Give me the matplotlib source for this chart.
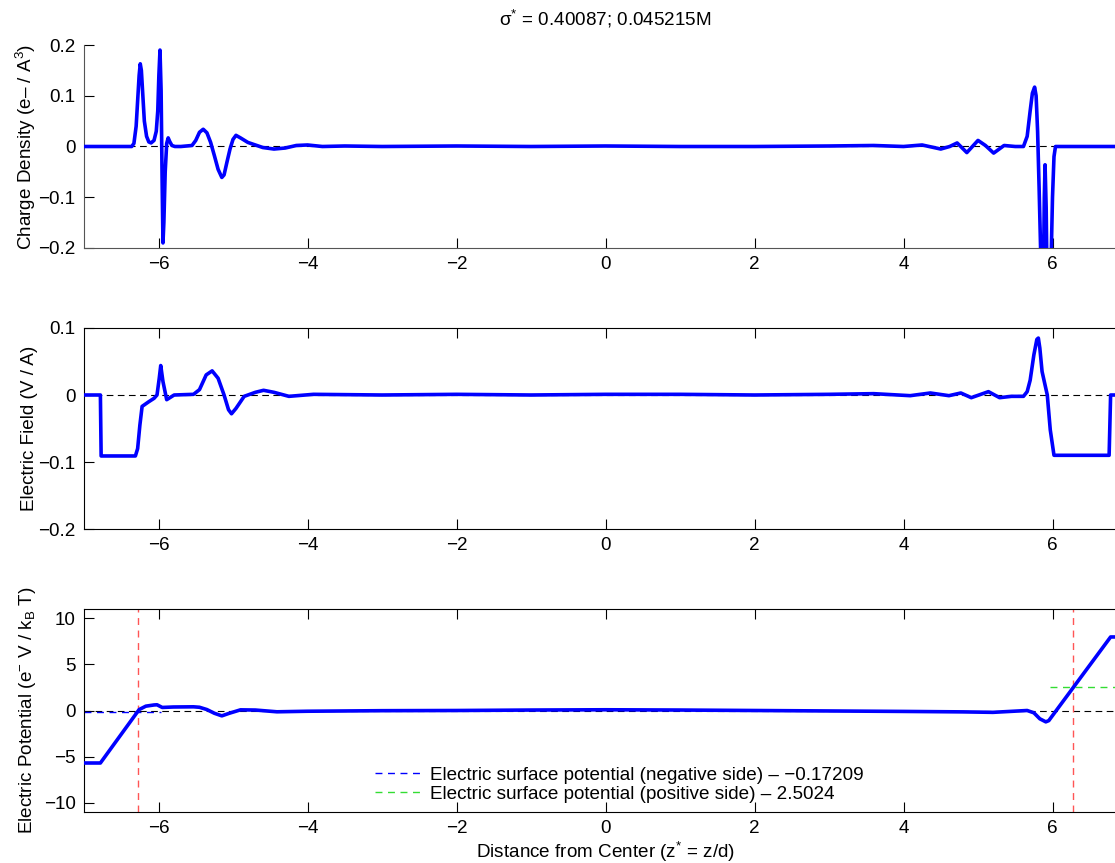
import numpy as np
import matplotlib
matplotlib.use("Agg")
import matplotlib.pyplot as plt

plt.rcParams['font.family'] = ['Liberation Sans', 'DejaVu Sans']
plt.rcParams['mathtext.fontset'] = 'custom'
plt.rcParams['mathtext.rm'] = 'Liberation Sans'
plt.rcParams['mathtext.it'] = 'Liberation Sans'
plt.rcParams['font.size'] = 13.6

# --- data ---
z_rho = [-7.0, -6.36, -6.33, -6.30, -6.28, -6.26, -6.245, -6.23, -6.21, -6.19, -6.16,
         -6.13, -6.10, -6.06, -6.03, -6.01, -5.995, -5.98, -5.965, -5.952, -5.94, -5.928,
         -5.91, -5.89, -5.87, -5.85, -5.82, -5.78, -5.70, -5.55, -5.50, -5.45, -5.40,
         -5.35, -5.30, -5.25, -5.20, -5.15, -5.12, -5.08, -5.04, -5.00, -4.96, -4.90,
         -4.80, -4.70, -4.60, -4.45, -4.30, -4.15, -4.0, -3.8, -3.5, -3.0, -2.0, -1.0,
         0.0, 1.0, 2.0, 3.0, 3.6, 4.0, 4.25, 4.5, 4.62, 4.72, 4.85, 5.00, 5.10, 5.21,
         5.35, 5.50, 5.61, 5.66, 5.70, 5.73, 5.76, 5.78, 5.80, 5.82, 5.84, 5.86, 5.875,
         5.89, 5.90, 5.915, 5.93, 5.945, 5.97, 5.985, 6.00, 6.02, 6.04, 7.0]
rho = [0.0, 0.0, 0.006, 0.04, 0.09, 0.14, 0.163, 0.15, 0.10, 0.05, 0.02,
       0.009, 0.007, 0.012, 0.03, 0.07, 0.14, 0.19, 0.11, -0.06, -0.19, -0.15,
       -0.05, 0.006, 0.017, 0.01, 0.002, 0.0, 0.0, 0.002, 0.012, 0.028, 0.034,
       0.027, 0.008, -0.018, -0.045, -0.061, -0.056, -0.03, -0.005, 0.014, 0.022, 0.017,
       0.008, 0.003, -0.002, -0.005, -0.003, 0.002, 0.003, 0.0, 0.001, 0.0, 0.001, 0.0,
       0.001, 0.0, 0.0, 0.001, 0.002, 0.0, 0.003, -0.005, 0.0, 0.007, -0.012, 0.012,
       0.002, -0.013, 0.002, 0.0, 0.0, 0.02, 0.07, 0.105, 0.117, 0.10, 0.03, -0.08,
       -0.2, -0.33, -0.30, -0.1, -0.036, -0.12, -0.3, -0.33, -0.3, -0.2, -0.1, -0.02, 0.0, 0.0]

z_field = [-7.0, -6.78, -6.77, -6.31, -6.28, -6.25, -6.22, -6.13, -6.06, -6.02, -5.99,
           -5.97, -5.94, -5.89, -5.79, -5.53, -5.45, -5.36, -5.28, -5.20, -5.12, -5.06,
           -5.02, -4.96, -4.85, -4.70, -4.59, -4.45, -4.25, -3.92, -3.0, -2.0, -1.0, 0.0,
           1.0, 2.0, 3.0, 3.6, 4.09, 4.36, 4.61, 4.77, 4.91, 5.14, 5.29, 5.45, 5.61,
           5.66, 5.70, 5.75, 5.79, 5.81, 5.83, 5.86, 5.88, 5.93, 5.97, 6.02, 6.76, 6.78, 7.0]
efield = [0.0, 0.0, -0.091, -0.091, -0.08, -0.045, -0.017, -0.010, -0.005, 0.0, 0.025,
          0.044, 0.02, -0.007, 0.0, 0.001, 0.008, 0.03, 0.036, 0.025, 0.0, -0.022,
          -0.028, -0.02, -0.002, 0.004, 0.007, 0.004, -0.002, 0.001, 0.0, 0.001, 0.0, 0.001,
          0.001, 0.0, 0.001, 0.002, -0.001, 0.003, -0.001, 0.003, -0.004, 0.005, -0.004,
          -0.002, -0.002, 0.005, 0.022, 0.06, 0.083, 0.085, 0.07, 0.035, 0.025, 0.0,
          -0.052, -0.090, -0.090, 0.0, 0.0]

z_pot = [-7.0, -6.78, -6.26, -6.17, -6.06, -6.02, -5.95, -5.80, -5.53, -5.45, -5.35,
         -5.25, -5.15, -5.05, -4.90, -4.70, -4.41, -4.0, -3.0, -2.0, -1.0, 0.0, 1.0,
         2.0, 3.0, 4.0, 4.8, 5.2, 5.66, 5.75, 5.83, 5.91, 5.95, 6.78, 7.0]
potential = [-5.69, -5.69, 0.1, 0.47, 0.6, 0.62, 0.33, 0.38, 0.4, 0.35, 0.1,
             -0.3, -0.58, -0.3, 0.07, 0.05, -0.14, -0.08, -0.02, 0.0, 0.05, 0.08, 0.05,
             0.0, -0.05, -0.1, -0.15, -0.2, 0.0, -0.25, -0.9, -1.23, -1.1, 7.97, 7.97]

z_surface = [-6.28, 6.28]
psi_neg = -0.17209
psi_pos = 2.5024

xticks = [-6, -4, -2, 0, 2, 4, 6]
rho_ticks = [0.2, 0.1, 0, -0.1, -0.2]
rho_labels = ['0.2', '0.1', '0', '\u22120.1', '\u22120.2']
field_ticks = [0.1, 0, -0.1, -0.2]
field_labels = ['0.1', '0', '\u22120.1', '\u22120.2']
pot_ticks = [10, 5, 0, -5, -10]
pot_labels = ['10', '5', '0', '\u22125', '\u221210']

fig = plt.figure(figsize=(11.15, 8.63), dpi=100)
W, H = 1115.0, 863.0
left, width = 84 / W, 1043 / W
ax1 = fig.add_axes([left, 1 - 248 / H, width, 203 / H])
ax2 = fig.add_axes([left, 1 - 529 / H, width, 201 / H])
ax3 = fig.add_axes([left, 1 - 812 / H, width, 203 / H])

blue = '#0000ff'
for ax in (ax1, ax2, ax3):
    ax.set_xlim(-7, 7)
    ax.set_xticks(xticks)
    ax.set_xticklabels(['\u2212%d' % -t if t < 0 else '%d' % t for t in xticks])
    ax.tick_params(direction='in', length=7, width=0.8, top=True, right=False, pad=6)
    ax.axhline(0, color='k', lw=0.8, ls=(0, (6, 4)), zorder=1)

ax1.plot(z_rho, rho, color=blue, lw=2.6, zorder=3)
ax1.set_ylim(-0.2, 0.2)
ax1.set_yticks(rho_ticks)
ax1.set_yticklabels(rho_labels)
ax1.spines['top'].set_visible(False)
ax1.tick_params(top=False)
for s in ax1.spines.values():
    s.set_color('#555555')
ax1.set_ylabel('Charge Density (e\u2013 / A$^{3}$)')
ax1.set_title('\u03c3$^{*}$ = 0.40087; 0.045215M', fontsize=13.6, pad=14)

ax2.plot(z_field, efield, color=blue, lw=2.6, zorder=3)
ax2.set_ylim(-0.2, 0.1)
ax2.set_yticks(field_ticks)
ax2.set_yticklabels(field_labels)
ax2.set_ylabel('Electric Field (V / A)')

ax3.plot(z_pot, potential, color=blue, lw=2.6, zorder=3)
for zs in z_surface:
    ax3.axvline(zs, color='#ff5555', lw=1.0, ls=(0, (5, 4)), zorder=2)
ax3.plot([-7, -5.97], [psi_neg, psi_neg], color=blue, lw=1.0, ls=(0, (5, 4)), zorder=2,
         label='Electric surface potential (negative side) \u2013 \u22120.17209')
ax3.plot([5.96, 7], [psi_pos, psi_pos], color='#33dd33', lw=1.0, ls=(0, (5, 4)), zorder=2,
         label='Electric surface potential (positive side) \u2013 2.5024')
ax3.set_ylim(-11, 11)
ax3.set_yticks(pot_ticks)
ax3.set_yticklabels(pot_labels)
ax3.set_ylabel('Electric Potential (e$^{-}$ V / k$_{B}$ T)')
ax3.set_xlabel('Distance from Center (z$^{*}$ = z/d)', labelpad=2)
ax3.legend(loc='lower left', bbox_to_anchor=(0.266, -0.02), frameon=False, fontsize=13.6,
           handlelength=2.4, handletextpad=0.55, labelspacing=0.1, borderpad=0.2)

for ax in (ax1, ax2, ax3):
    ax.yaxis.set_label_coords(-0.044, 0.5)

fig.savefig('out.png', dpi=100)
